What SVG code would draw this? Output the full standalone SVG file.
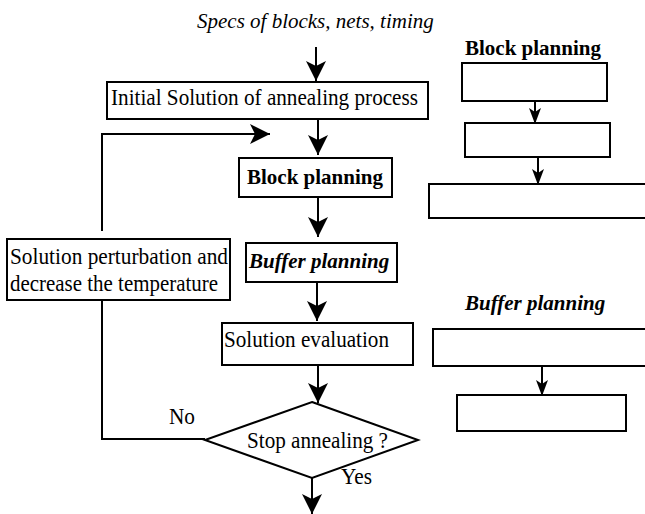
<svg xmlns="http://www.w3.org/2000/svg" width="645" height="514" viewBox="0 0 645 514">
<style>
.box{fill:#fff;stroke:#000;stroke-width:2}
.ln{fill:none;stroke:#000;stroke-width:2}
.big{marker-end:url(#ah)}
.sm{marker-end:url(#as)}
text{font-family:"Liberation Serif","Times New Roman",serif;font-size:21px;fill:#000}
.r{font-size:23.5px}
.b{font-weight:bold}
.i{font-style:italic}
</style>
<defs>
<marker id="ah" markerUnits="userSpaceOnUse" markerWidth="22" markerHeight="22" viewBox="0 0 22 22" refX="21" refY="11" orient="auto">
<path d="M1,1 L21,11 L1,21 L6,11 Z" fill="#000"/>
</marker>
<marker id="as" markerUnits="userSpaceOnUse" markerWidth="18" markerHeight="14" viewBox="0 0 18 14" refX="17" refY="7" orient="auto">
<path d="M1,1 L17,7 L1,13 L5,7 Z" fill="#000"/>
</marker>
</defs>
<g id="connectors">
<line class="ln big" x1="316" y1="47" x2="316" y2="81"/>
<line class="ln big" x1="318" y1="119" x2="318" y2="155"/>
<line class="ln big" x1="318" y1="197" x2="318" y2="237"/>
<line class="ln big" x1="317" y1="282" x2="317" y2="321"/>
<line class="ln big" x1="318" y1="365" x2="318" y2="403"/>
<line class="ln big" x1="312" y1="478" x2="312" y2="514"/>
<polyline class="ln big" points="102,231 102,134 270,134"/>
<polyline class="ln" points="102,300 102,439 205,439"/>
<line class="ln sm" x1="535" y1="101" x2="535" y2="124"/>
<line class="ln sm" x1="538" y1="157" x2="538" y2="185"/>
<line class="ln sm" x1="542" y1="366" x2="542" y2="396"/>
</g>
<g id="specs"><text class="i" x="197" y="28">Specs of blocks, nets, timing</text></g>
<g id="initial"><rect class="box" x="107" y="82" width="321" height="37"/><text class="r" x="111" y="105" textLength="307" lengthAdjust="spacingAndGlyphs">Initial Solution of annealing process</text></g>
<g id="block"><rect class="box" x="239" y="158" width="153" height="39"/><text class="b" x="247" y="184">Block planning</text></g>
<g id="buffer"><rect class="box" x="246" y="243" width="151" height="39"/><text class="b i" x="249" y="268">Buffer planning</text></g>
<g id="perturb"><rect class="box" x="7" y="239" width="223" height="61"/><text class="r" x="10" y="264" textLength="218" lengthAdjust="spacingAndGlyphs">Solution perturbation and</text><text class="r" x="10" y="291" textLength="208" lengthAdjust="spacingAndGlyphs">decrease the temperature</text></g>
<g id="eval"><rect class="box" x="222" y="323" width="191" height="42"/><text class="r" x="224" y="347" textLength="165" lengthAdjust="spacingAndGlyphs">Solution evaluation</text></g>
<g id="stop"><polygon class="box" points="312,402 418,440 312,478 205,440"/><text class="r" x="247" y="448" textLength="141" lengthAdjust="spacingAndGlyphs">Stop annealing ?</text></g>
<g id="no"><text class="r" x="169" y="424" textLength="26" lengthAdjust="spacingAndGlyphs">No</text></g>
<g id="yes"><text class="r" x="341" y="484" textLength="31" lengthAdjust="spacingAndGlyphs">Yes</text></g>
<g id="rblock-label"><text class="b" x="465" y="55">Block planning</text></g>
<g id="r1"><rect class="box" x="462" y="63" width="145" height="38"/></g>
<g id="r2"><rect class="box" x="465" y="123" width="145" height="34"/></g>
<g id="r3"><rect class="box" x="429" y="184" width="220" height="34"/></g>
<g id="rbuffer-label"><text class="b i" x="465" y="310">Buffer planning</text></g>
<g id="r4"><rect class="box" x="433" y="329" width="216" height="37"/></g>
<g id="r5"><rect class="box" x="457" y="395" width="169" height="36"/></g>
</svg>
